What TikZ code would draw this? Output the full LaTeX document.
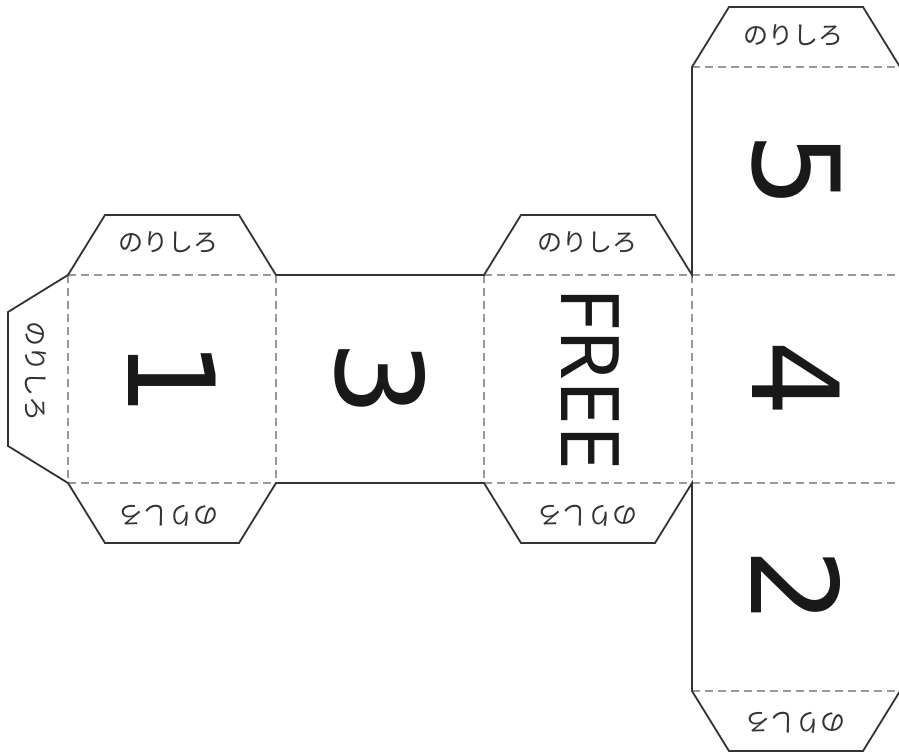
\documentclass[tikz,border=0pt]{standalone}
\usepackage{fontspec}
\newfontfamily\jpfont{Noto Sans CJK JP}
\newfontfamily\numfont{DejaVu Sans}
\newfontfamily\freefont{Noto Sans}
\begin{document}
\begin{tikzpicture}[x=1pt, y=-1pt,
    cut/.style={draw=black!80, line width=1.8pt, line join=miter},
    fold/.style={draw=black!40, line width=1.4pt, dash pattern=on 8pt off 5pt},
    glue/.style={font=\jpfont\fontsize{25}{25}\selectfont, text=black!80, inner sep=0pt},
    face/.style={font=\numfont\fontsize{120}{120}\selectfont, text=black!90, rotate=-90, inner sep=0pt}]

\useasboundingbox (0,0) rectangle (899,753);

% fold lines
\foreach \y in {275,483}
    \draw[fold] (68,\y) -- (276,\y) (484,\y) -- (900,\y);
\draw[fold] (692,67) -- (900,67) (692,691) -- (900,691);
\foreach \x in {68,276,484,692}
    \draw[fold] (\x,275) -- (\x,483);

% outline of the net
\draw[cut] (68,275) -- (105,215) -- (239,215) -- (276,275) -- (484,275)
    -- (521,215) -- (655,215) -- (692,275) -- (692,67) -- (729,7)
    -- (863,7) -- (900,67) -- (900,691) -- (863,751) -- (729,751)
    -- (692,691) -- (692,483) -- (655,543) -- (521,543) -- (484,483)
    -- (276,483) -- (239,543) -- (105,543) -- (68,483) -- (8,446)
    -- (8,312) -- cycle;

% faces
\node[face] (one) at (172,379) {1};
\node[face] (three) at (380,379) {3};
\node[face, font=\freefont\fontsize{81}{81}\selectfont] (free) at (590,379) {FREE};
\node[face] (four) at (796,379) {4};
\node[face] (five) at (796,171) {5};
\node[face] (two) at (796,587) {2};

% glue tabs
\node[glue] (tab1t) at (168,242) {のりしろ};
\node[glue, rotate=180] (tab1b) at (168,516) {のりしろ};
\node[glue, rotate=-90] (tab1l) at (36,371) {のりしろ};
\node[glue] (tabft) at (587,242) {のりしろ};
\node[glue, rotate=180] (tabfb) at (587,516) {のりしろ};
\node[glue] (tab5t) at (793,35) {のりしろ};
\node[glue, rotate=180] (tab2b) at (795,723) {のりしろ};

\end{tikzpicture}
\end{document}
